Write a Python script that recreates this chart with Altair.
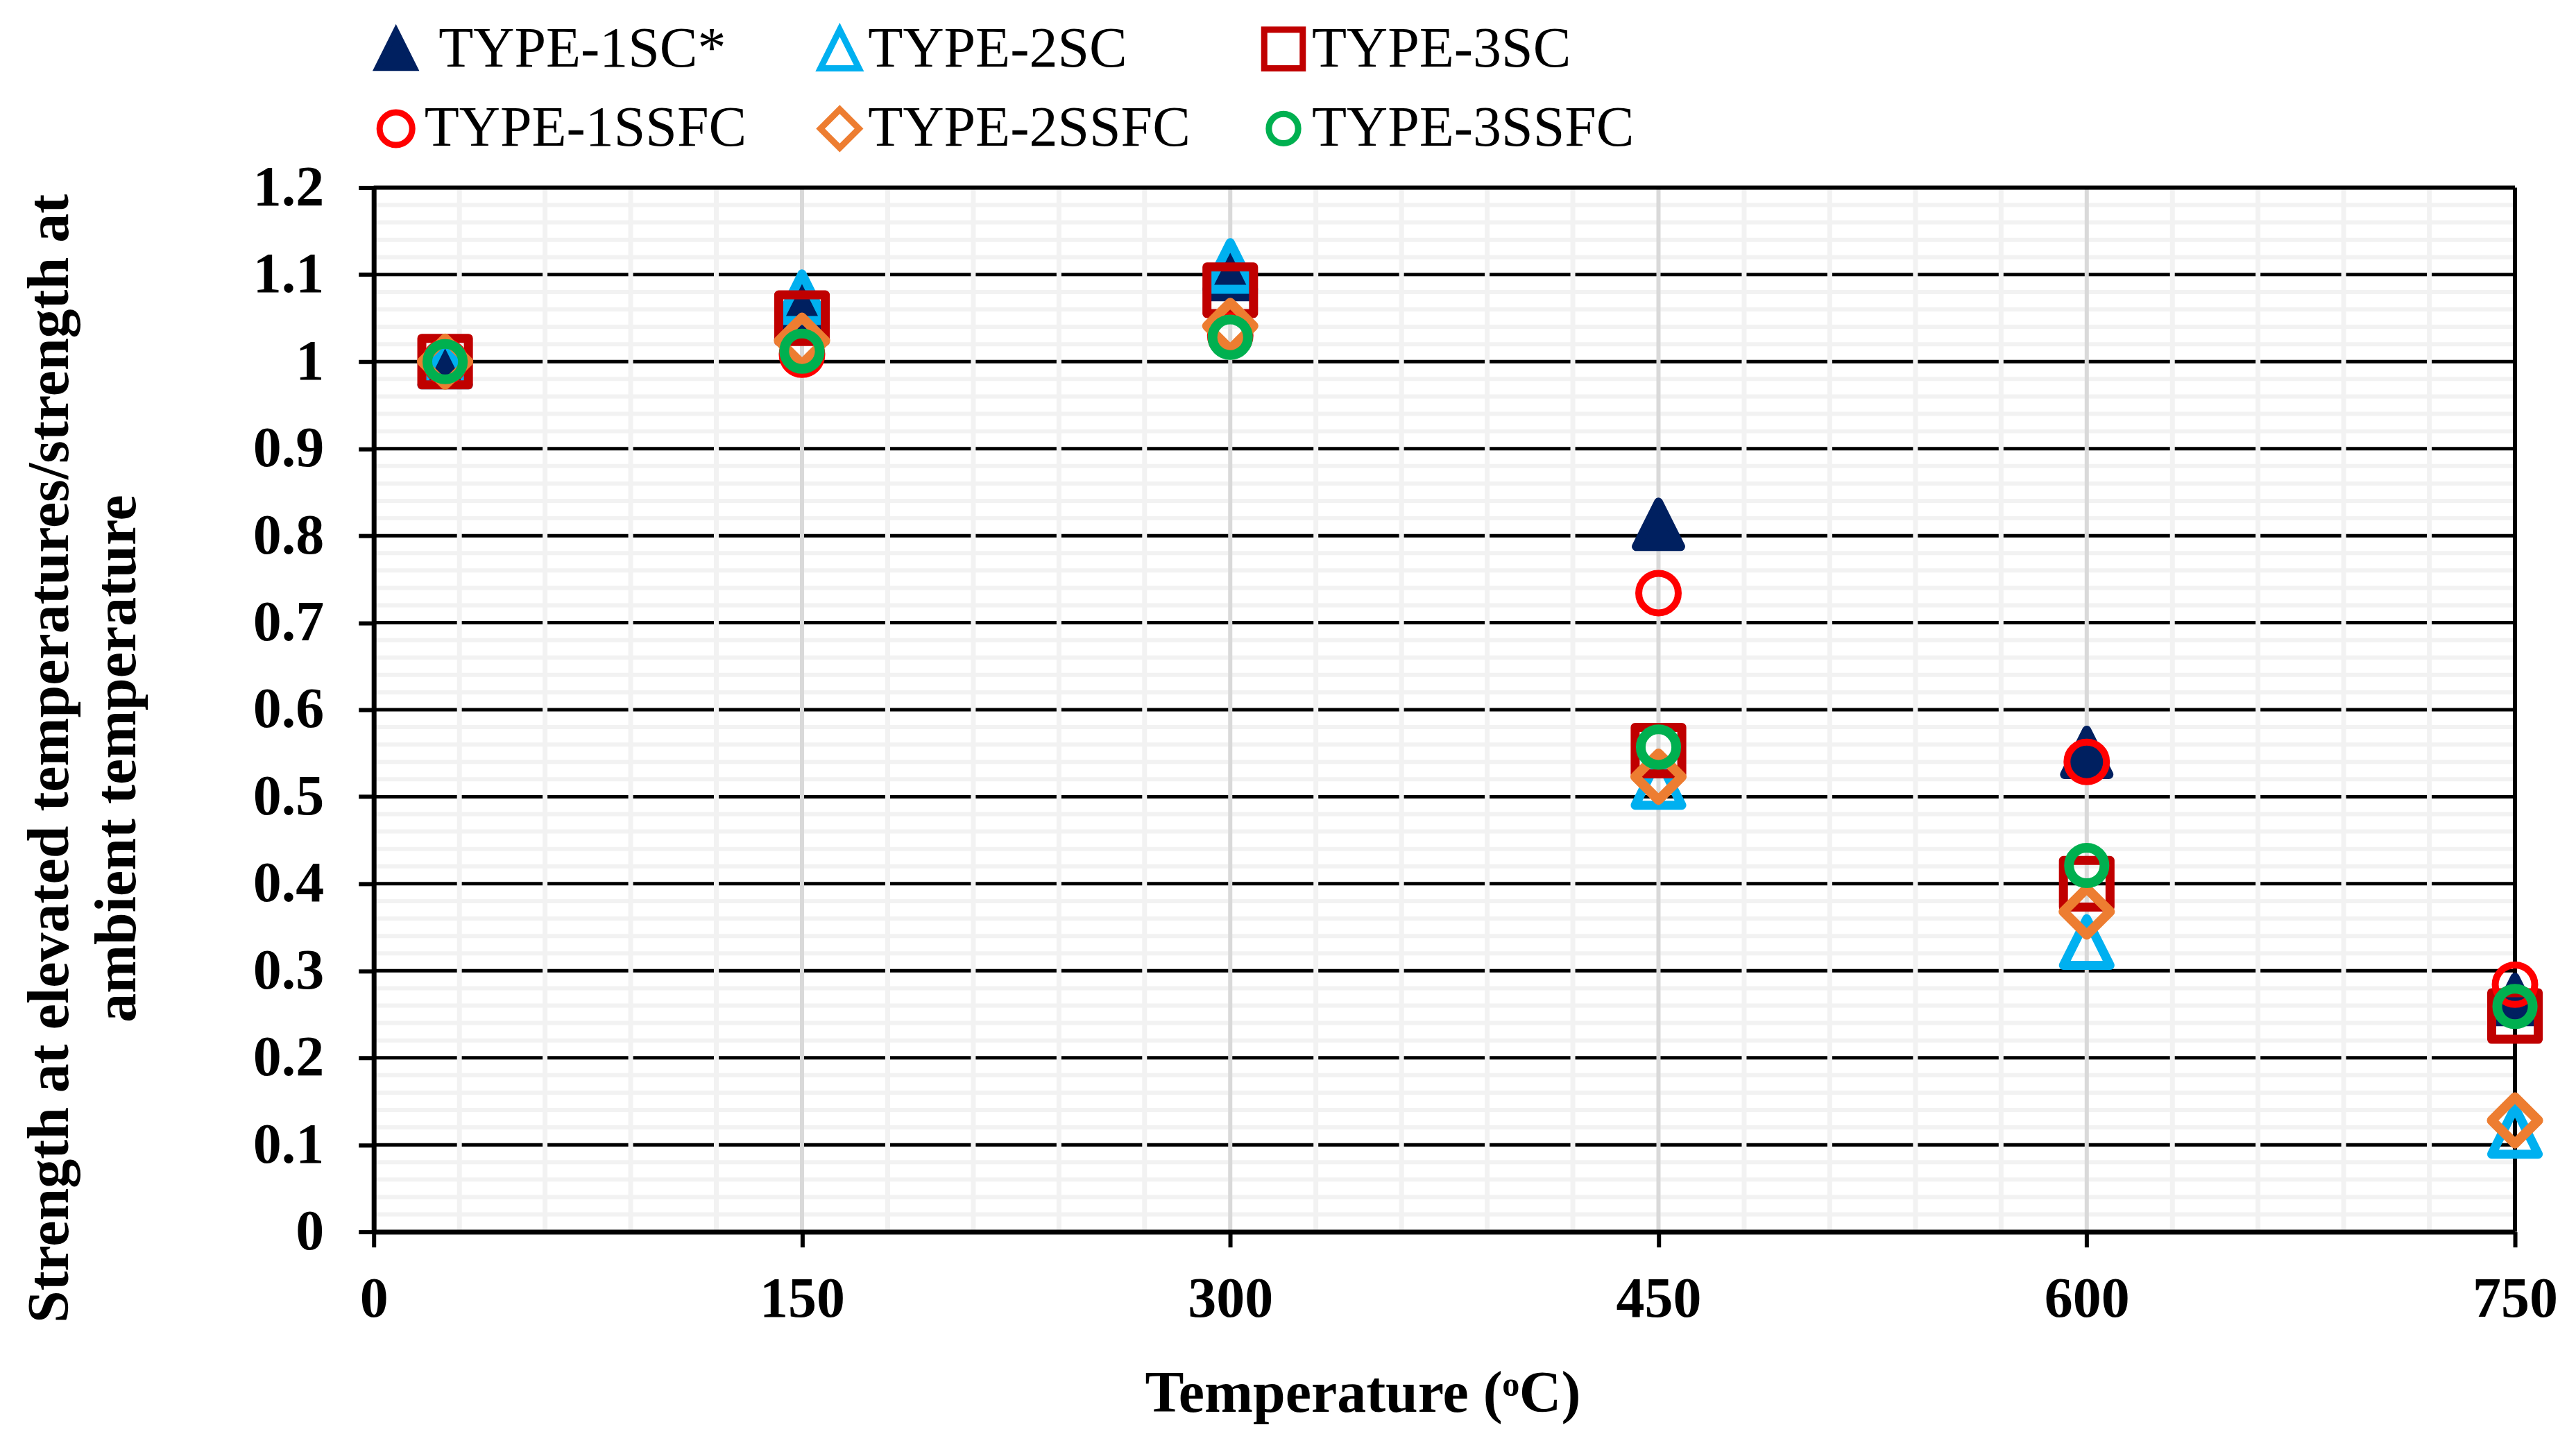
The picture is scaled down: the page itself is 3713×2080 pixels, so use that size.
import altair as alt
import pandas as pd

# ---------------- data ----------------
temperatures = [25, 150, 300, 450, 600, 750]
series_names = ["TYPE-1SC*", "TYPE-2SC", "TYPE-3SC", "TYPE-1SSFC", "TYPE-2SSFC", "TYPE-3SSFC"]
type_1sc = [1.00, 1.067, 1.100, 0.813, 0.551, 0.267]
type_2sc = [1.00, 1.074, 1.110, 0.517, 0.333, 0.116]
type_3sc = [1.00, 1.050, 1.082, 0.553, 0.400, 0.248]
type_1ssfc = [1.00, 1.008, 1.030, 0.734, 0.540, 0.284]
type_2ssfc = [1.00, 1.024, 1.041, 0.523, 0.368, 0.128]
type_3ssfc = [1.00, 1.012, 1.028, 0.557, 0.421, 0.259]

x_ticks = [0, 150, 300, 450, 600, 750]
y_ticks = [0, 0.1, 0.2, 0.3, 0.4, 0.5, 0.6, 0.7, 0.8, 0.9, 1.0, 1.1, 1.2]
x_minor = [v for v in range(30, 750, 30) if v % 150]
y_minor = [round(i * 0.02, 2) for i in range(1, 60) if i % 5]

# ---------------- styles ----------------
stroke_colors = ["#002060", "#00B0F0", "#C00000", "#FF0000", "#ED7D31", "#00B050"]
fill_colors = ["#002060", "transparent", "transparent", "transparent", "transparent", "transparent"]
shape_paths = [
    "M0,-1L-1,1L1,1Z",
    "M0,-1.05L-1.05,1.05L1.05,1.05Z",
    "M-1.05,-1.05H1.05V1.05H-1.05Z",
    "M0.89,0A0.89,0.89,0,1,1,-0.89,0A0.89,0.89,0,1,1,0.89,0Z",
    "M0,-1.05L1.05,0L0,1.05L-1.05,0Z",
    "M0.8,0A0.8,0.8,0,1,1,-0.8,0A0.8,0.8,0,1,1,0.8,0Z",
]

values = [type_1sc, type_2sc, type_3sc, type_1ssfc, type_2ssfc, type_3ssfc]
rows = []
for name, vals in zip(series_names, values):
    for t, v in zip(temperatures, vals):
        rows.append({"series": name, "temperature": t, "ratio": v})
df = pd.DataFrame(rows)

FONT = "Liberation Serif"

x_scale = alt.Scale(domain=[0, 750], nice=False, zero=False)
y_scale = alt.Scale(domain=[0, 1.2], nice=False, zero=False)

x_axis = alt.Axis(
    values=x_ticks, format="d", grid=False, zindex=1,
    labelFont=FONT, labelFontSize=82, labelFontWeight="bold", labelColor="black",
    labelPadding=35, labelFlush=False, labelOverlap=False,
    tickSize=22, tickWidth=6, tickColor="black",
    domainColor="black", domainWidth=7,
    title="Temperature (\u1d52C)", titleFont=FONT, titleFontSize=84,
    titleFontWeight="bold", titleColor="black",
    titleX=1426, titleY=259, titleBaseline="alphabetic",
)
y_axis = alt.Axis(
    values=y_ticks, format="~g", grid=False, zindex=1,
    labelFont=FONT, labelFontSize=82, labelFontWeight="bold", labelColor="black",
    labelPadding=50, labelFlush=False, labelOverlap=False,
    tickSize=22, tickWidth=6, tickColor="black",
    domainColor="black", domainWidth=7,
    title=["Strength at elevated temperatures/strength at", "ambient temperature"],
    titleFont=FONT, titleFontSize=84, titleFontWeight="bold", titleColor="black",
    titleLineHeight=97, titleX=-441, titleY=823, titleBaseline="alphabetic",
)

legend = alt.Legend(
    title=None, orient="none", legendX=-9, legendY=-241, columns=3,
    direction="horizontal", padding=0,
    labelFont=FONT, labelFontSize=82, labelColor="black", labelLimit=2000,
    labelOffset=0, columnPadding=88, rowPadding=23,
    symbolSize=2800, symbolStrokeWidth=9, symbolOpacity=1,
    labelExpr="indexof(datum.label, '*') > 0 ? '\u200b\u00a0' + datum.label : datum.label",
)

enc_x = alt.X("temperature:Q", scale=x_scale, axis=x_axis)
enc_y = alt.Y("ratio:Q", scale=y_scale, axis=y_axis)


def grid_h(vals, color, width):
    return alt.Chart(pd.DataFrame({"ratio": vals})).mark_rule(
        color=color, strokeWidth=width
    ).encode(y=enc_y)


def grid_v(vals, color, width):
    return alt.Chart(pd.DataFrame({"temperature": vals})).mark_rule(
        color=color, strokeWidth=width
    ).encode(x=enc_x)


minor_h = grid_h(y_minor, "#F2F2F2", 6)
major_h = grid_h(y_ticks[1:-1], "#000000", 5)
minor_v = grid_v(x_minor, "#F2F2F2", 7)
major_v = grid_v(x_ticks[1:-1], "#D9D9D9", 6)
top_border = grid_h(y_ticks[-1:], "#000000", 6)
right_border = grid_v(x_ticks[-1:], "#000000", 6)


def points(names, width):
    return alt.Chart(df).transform_filter(
        alt.FieldOneOfPredicate(field="series", oneOf=names)
    ).mark_point(size=4096, strokeWidth=width, strokeJoin="round", opacity=1).encode(
        x=enc_x,
        y=enc_y,
        stroke=alt.Stroke("series:N", scale=alt.Scale(domain=series_names, range=stroke_colors), legend=legend),
        fill=alt.Fill("series:N", scale=alt.Scale(domain=series_names, range=fill_colors), legend=legend),
        shape=alt.Shape("series:N", scale=alt.Scale(domain=series_names, range=shape_paths), legend=legend),
    )


pts_a = points(series_names[0:3], 13)
pts_b = points(series_names[3:4], 10)
pts_c = points(series_names[4:6], 14)

chart = alt.layer(
    minor_h, major_h, minor_v, major_v, top_border, right_border, pts_a, pts_b, pts_c
).properties(
    width=3088, height=1506,
    padding={"left": 531, "top": 262, "right": 80, "bottom": 290},
    autosize=alt.AutoSizeParams(type="none"),
    background="white",
).configure_view(stroke=None)

chart.save("out.html", embed_options={"renderer": "svg", "actions": False})
